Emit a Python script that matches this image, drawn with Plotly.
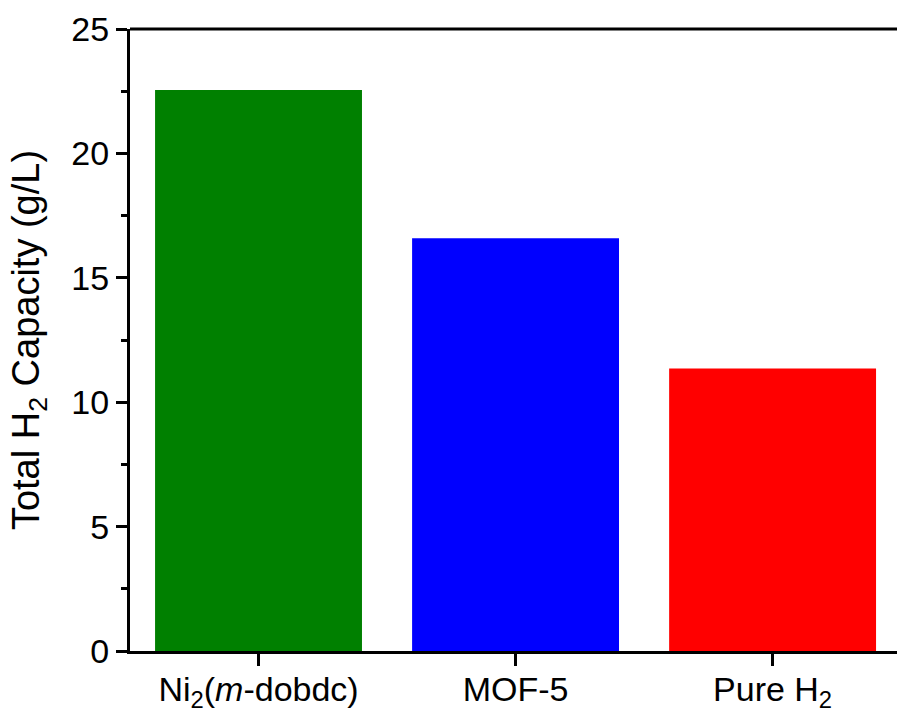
import plotly.graph_objects as go

# Hydrogen storage comparison
categories = ["Ni<sub>2</sub>(<i>m</i>-dobdc)", "MOF-5", "Pure H<sub>2</sub>"]
capacity = [22.55, 16.59, 11.35]
bar_colors = ["#008000", "#0000FF", "#FF0000"]
y_ticks = [0, 5, 10, 15, 20, 25]

FONT = "Arial, Liberation Sans, sans-serif"

fig = go.Figure(
    go.Bar(
        x=list(range(len(categories))),
        y=capacity,
        marker=dict(color=bar_colors, line=dict(width=0)),
        width=0.805,
    )
)

fig.update_layout(
    width=897,
    height=713,
    margin=dict(l=130, r=0, t=29, b=62),
    plot_bgcolor="white",
    paper_bgcolor="white",
    showlegend=False,
    dragmode=False,
    font=dict(family=FONT, size=34, color="black"),
    # frame line along the top edge of the figure's plot region
    shapes=[
        dict(type="line", xref="paper", yref="paper", x0=0, x1=1, y0=1, y1=1,
             line=dict(color="black", width=3)),
    ],
)

fig.update_xaxes(
    range=[-0.5, 2.484],
    automargin=False,
    fixedrange=True,
    tickmode="array",
    tickvals=list(range(len(categories))),
    ticktext=categories,
    showline=True,
    linecolor="black",
    linewidth=3,
    ticks="outside",
    ticklen=12,
    tickwidth=3,
    tickcolor="black",
    ticklabelstandoff=-6,
    showgrid=False,
    zeroline=False,
    showspikes=False,
    tickfont=dict(family=FONT, size=34, color="black"),
)

fig.update_yaxes(
    range=[0, 25],
    automargin=False,
    fixedrange=True,
    tickmode="array",
    tickvals=y_ticks,
    ticktext=[str(v) for v in y_ticks],
    showline=True,
    linecolor="black",
    linewidth=3,
    ticks="outside",
    ticklen=11,
    tickwidth=3,
    tickcolor="black",
    minor=dict(ticks="outside", ticklen=6, tickwidth=3, dtick=2.5, tickcolor="black", showgrid=False),
    showgrid=False,
    zeroline=False,
    showspikes=False,
    tickfont=dict(family=FONT, size=34, color="black"),
    title=dict(
        text="Total H<sub>2</sub> Capacity (g/L)",
        font=dict(family=FONT, size=38, color="black"),
        standoff=21,
    ),
)

fig.write_html("out.html", config={"displayModeBar": False, "staticPlot": True})
